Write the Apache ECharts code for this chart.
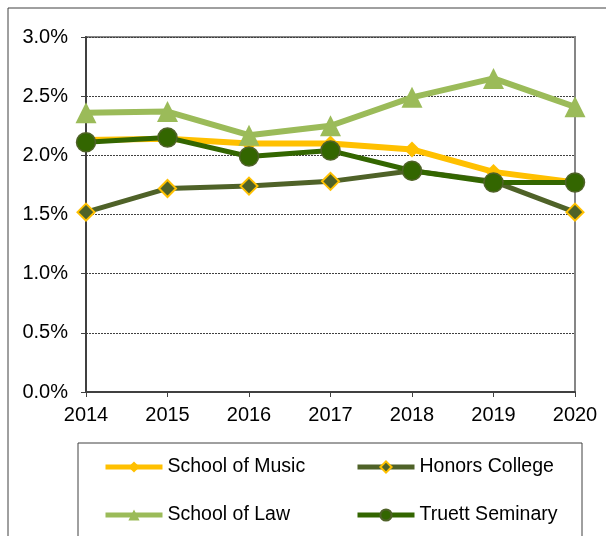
<!DOCTYPE html>
<html>
<head>
<meta charset="utf-8">
<script src="https://cdn.jsdelivr.net/npm/echarts@6/dist/echarts.min.js"></script>
<style>
  html, body { margin: 0; padding: 0; background: #fff; }
  #chart { width: 606px; height: 536px; }
</style>
</head>
<body>
<div id="chart"></div>
<script>
const years = ['2014', '2015', '2016', '2017', '2018', '2019', '2020'];
const music = [2.13, 2.14, 2.10, 2.10, 2.05, 1.86, 1.77];
const honors = [1.52, 1.72, 1.74, 1.78, 1.87, 1.78, 1.52];
const law = [2.36, 2.37, 2.17, 2.25, 2.49, 2.65, 2.41];
const truett = [2.11, 2.15, 1.99, 2.04, 1.87, 1.77, 1.77];

const font = 'Liberation Sans, Arial, sans-serif';
const chart = echarts.init(document.getElementById('chart'), null, { renderer: 'canvas' });

const legendBase = {
    orient: 'vertical', top: 452,
    itemWidth: 57, itemHeight: 14, itemGap: 28,
    textStyle: { fontFamily: font, fontSize: 19.5, color: '#000' }
};

chart.setOption({
    animation: false,
    backgroundColor: '#fff',
    grid: {
        left: 86, right: 31, top: 37, bottom: 144,
        show: true, borderColor: '#868686', borderWidth: 2
    },
    graphic: [
        {
            type: 'polyline',
            shape: { points: [[8, 536], [8, 8], [606, 8]] },
            style: { stroke: '#404040', lineWidth: 1, fill: null }
        },
        {
            type: 'polyline',
            shape: { points: [[78, 536], [78, 443], [582, 443], [582, 536]] },
            style: { stroke: '#404040', lineWidth: 1, fill: null }
        }
    ],
    legend: [
        Object.assign({}, legendBase, {
            left: 98,
            data: [
                { name: 'School of Music', lineStyle: { width: 5 } },
                { name: 'School of Law', lineStyle: { width: 5 } }
            ]
        }),
        Object.assign({}, legendBase, {
            left: 350,
            data: [
                { name: 'Honors College', lineStyle: { width: 5 } },
                { name: 'Truett Seminary', lineStyle: { width: 5 } }
            ]
        })
    ],
    xAxis: {
        type: 'category',
        data: years,
        boundaryGap: false,
        axisLine: { lineStyle: { color: '#404040', width: 2 } },
        axisTick: { show: true, length: 5, alignWithLabel: true, lineStyle: { color: '#404040' } },
        axisLabel: { fontFamily: font, fontSize: 20, color: '#000', margin: 13 },
        splitLine: { show: false }
    },
    yAxis: {
        type: 'value',
        min: 0, max: 3, interval: 0.5,
        axisLine: { show: true, lineStyle: { color: '#404040', width: 2 } },
        axisTick: { show: true, length: 5, lineStyle: { color: '#404040' } },
        axisLabel: {
            fontFamily: font, fontSize: 20, color: '#000', margin: 18,
            formatter: v => v.toFixed(1) + '%'
        },
        splitLine: { lineStyle: { color: '#404040', type: [2, 1], width: 1 } }
    },
    series: [
        {
            name: 'School of Music', type: 'line', data: music,
            lineStyle: { color: '#FFC000', width: 6 },
            itemStyle: { color: '#FFC000' },
            symbol: 'diamond', symbolSize: 16
        },
        {
            name: 'Honors College', type: 'line', data: honors,
            lineStyle: { color: '#4F6228', width: 5 },
            itemStyle: { color: '#4F6228', borderColor: '#FFC000', borderWidth: 2 },
            symbol: 'diamond', symbolSize: 17
        },
        {
            name: 'School of Law', type: 'line', data: law,
            lineStyle: { color: '#9BBB59', width: 6 },
            itemStyle: { color: '#9BBB59' },
            symbol: 'triangle', symbolSize: 21
        },
        {
            name: 'Truett Seminary', type: 'line', data: truett,
            lineStyle: { color: '#336600', width: 5 },
            itemStyle: { color: '#336600', borderColor: '#4F6228', borderWidth: 1.5 },
            symbol: 'circle', symbolSize: 19
        }
    ]
});
</script>
</body>
</html>
